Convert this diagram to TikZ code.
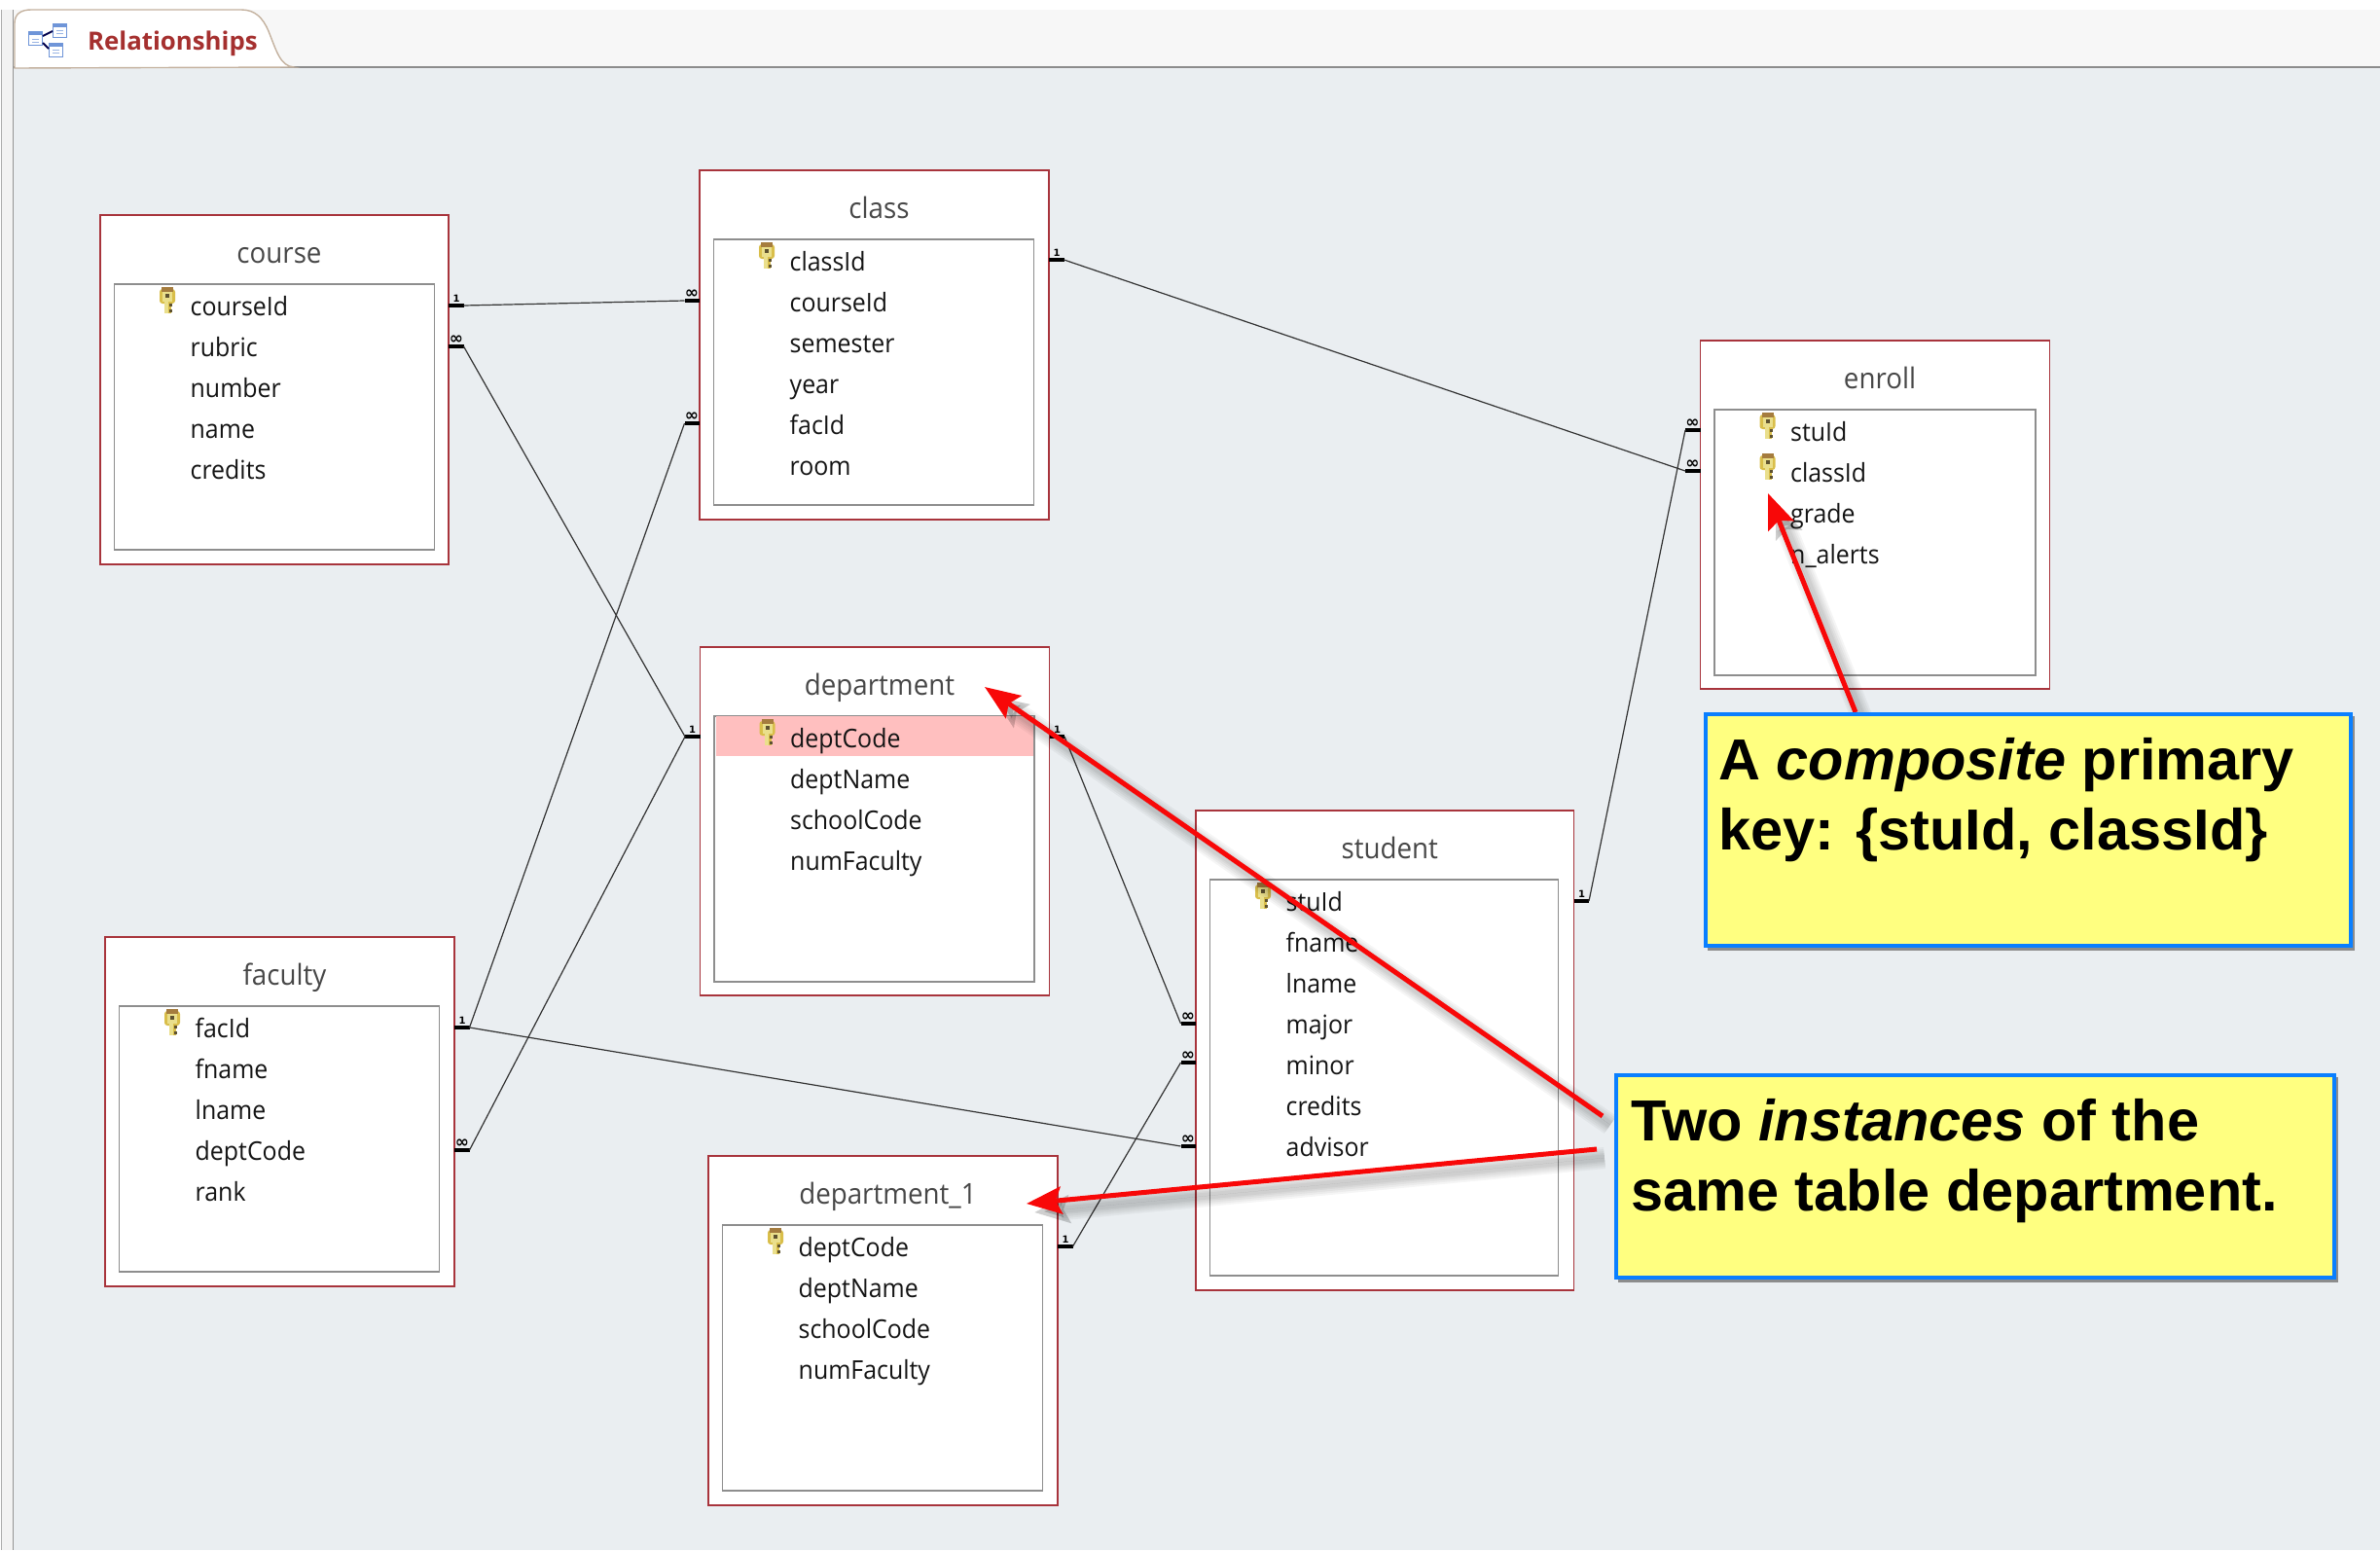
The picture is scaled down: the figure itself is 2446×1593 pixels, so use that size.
\documentclass[tikz,border=0pt]{standalone}
\usepackage{fontspec}
\setmainfont{Open Sans}
\newfontfamily\fieldfont[FakeStretch=0.94]{Open Sans}
\newfontfamily\notefont{Liberation Sans}
\newfontfamily\markfont{DejaVu Sans}
\usetikzlibrary{calc,arrows.meta}
\definecolor{canvas}{HTML}{EAEEF1}
\definecolor{tableline}{HTML}{A8343C}
\definecolor{innerline}{HTML}{8E8E8E}
\definecolor{tabred}{HTML}{A5302F}
\definecolor{noteblue}{HTML}{0A7FFF}
\definecolor{noteyellow}{HTML}{FFFF80}
\definecolor{arrowred}{HTML}{F80808}
\definecolor{iconblue}{HTML}{6F95D8}
\definecolor{keypale}{HTML}{EADF8C}
\definecolor{keygold}{HTML}{D9BE4A}
\definecolor{keybrown}{HTML}{A57C3E}
\definecolor{keydark}{HTML}{5E5230}
\tikzset{
  tablebox/.style={draw=tableline,fill=white,line width=1.1pt,anchor=north west,inner sep=0pt,outer sep=0pt},
  innerbox/.style={draw=innerline,fill=white,line width=1.1pt,anchor=north west,inner sep=0pt,outer sep=0pt},
  titletext/.style={anchor=base,inner sep=0pt,text=black!72,font=\fieldfont\fontsize{29.5}{32}\selectfont},
  fieldtext/.style={anchor=base west,inner sep=0pt,text=black!92,font=\fieldfont\fontsize{26.5}{30}\selectfont},
  relline/.style={draw=black!80,line width=1.2pt},
  stubline/.style={draw=black,line width=4pt},
  marktext/.style={inner sep=0pt,font=\markfont\bfseries\fontsize{10}{10}\selectfont},
  manytext/.style={inner sep=0pt,font=\markfont\bfseries\fontsize{17}{17}\selectfont},
  callout/.style={draw=noteblue,fill=noteyellow,line width=4.5pt,anchor=north west,inner sep=0pt,outer sep=0pt},
  noteshadow/.style={fill=black!45,draw=none,anchor=north west,inner sep=0pt,outer sep=0pt},
  notetext/.style={anchor=north west,inner sep=0pt,align=left,font=\notefont\bfseries\fontsize{59.5}{72.5}\selectfont},
  redarrow/.style={draw=arrowred,fill=arrowred,line width=5pt,-{Stealth[length=36pt,width=28pt,inset=6pt]}},
  redshadow/.style={draw=black,fill=black,opacity=0.04,line width=#1,-{Stealth[length=36pt,width=28pt,inset=6pt]}},
  iconbox/.style={draw=iconblue,fill=white,line width=1pt}
}
% table frame: name, left, top, title, outer w, outer h, inner w, inner h
\newcommand{\dbframe}[8]{%
  \node[tablebox,minimum width=#5pt,minimum height=#6pt] (#1) at (#2,#3) {};
  \node[innerbox,minimum width=#7pt,minimum height=#8pt] (#1-in) at ($(#1.north west)+(14.5,71)$) {};
  \node[titletext] (#1-title) at ($(#1.north)+(5,49)$) {#4};
}
\newcommand{\dbrows}[2]{%
  \foreach \f [count=\i] in {#2} {
    \node[fieldtext] (#1-f\i) at ($(#1.north west)+(92.5,{103.5+42*(\i-1)})$) {\f};
  }
}
\newcommand{\keyicon}[2]{%
  \begin{scope}[shift={($(#1.north west)+(61,{74+42*(#2-1)})$)}]
    \fill[rounded corners=3pt,fill=keygold] (0,2) rectangle (16,17);
    \fill[fill=keybrown] (2,0) rectangle (14,5);
    \fill[fill=keypale] (3,5) rectangle (13,15);
    \fill[fill=keydark] (6,7) rectangle (10,11);
    \fill[fill=keypale] (5,15) rectangle (9,27);
    \fill[fill=keygold] (9,15) rectangle (12,27);
    \fill[fill=keydark] (10,17) rectangle (13,20);
    \fill[fill=keydark] (10,23) rectangle (13,26);
  \end{scope}
}
% stub: name, table corner anchor, dy, direction(+1/-1), mark
\newcommand{\stub}[5]{%
  \coordinate (#1-e) at ($(#2)+(0,#3)$);
  \coordinate (#1-o) at ($(#1-e)+({#4*15.5},0)$);
  \draw[stubline] (#1-e) -- (#1-o);
  \node[marktext] (#1-m) at ($(#1-e)+({#4*8},-7.5)$) {#5};
}
\newcommand{\stubmany}[4]{%
  \coordinate (#1-e) at ($(#2)+(0,#3)$);
  \coordinate (#1-o) at ($(#1-e)+({#4*15.5},0)$);
  \draw[stubline] (#1-e) -- (#1-o);
  \node[manytext] (#1-m) at ($(#1-e)+({#4*8},-7)$) {∞};
}
\newcommand{\pointer}[3]{%
  \coordinate (#1-s) at #2;
  \coordinate (#1-t) at #3;
  \foreach \w in {22,18,14,10,7} {
    \draw[redshadow=\w pt] ($(#1-s)+(8,9)$) -- ($(#1-t)+(8,9)$);
  }
  \draw[redarrow] (#1-s) -- (#1-t);
}
\begin{document}
\begin{tikzpicture}[x=1pt,y=-1pt]
\useasboundingbox (0,0) rectangle (2446,1593);
% window chrome
\fill[white] (0,0) rectangle (2446,1593);
\fill[black!5] (2,10) rectangle (13,1593);
\draw[draw=black!33,line width=1.5pt] (1.5,10) -- (1.5,1593);
\draw[draw=black!42,line width=1.5pt] (13.5,10) -- (13.5,1593);
\fill[canvas] (14,69) rectangle (2446,1593);
\fill[black!3] (14,10) rectangle (2446,68);
\draw[draw=black!45,line width=2pt] (14,68.5) -- (2446,68.5);
\draw[fill=white,draw=black!35!brown!45,line width=1.4pt]
  (15,70) -- (15,24) .. controls (15,14) and (22,10) .. (32,10) -- (248,10)
  .. controls (262,10) and (270,18) .. (276,32) .. controls (284,52) and (288,68) .. (302,69) -- cycle;
\node[anchor=base west,inner sep=0pt,text=tabred,font=\bfseries\fontsize{25.8}{30}\selectfont] (tabtitle) at (90,51) {Relationships};
% tab icon
\draw[iconbox] (54.5,24.5) rectangle (68.5,38.5);
\fill[iconblue] (54.5,24.5) rectangle (68.5,28);
\draw[iconbox] (50.5,44.5) rectangle (64.5,58.5);
\fill[iconblue] (50.5,44.5) rectangle (64.5,48);
\draw[iconbox] (29.5,32.5) rectangle (43.5,46.5);
\fill[iconblue] (29.5,32.5) rectangle (43.5,36);
\draw[draw=black!70!blue,line width=2pt] (44,37) -- (54,32);
\draw[draw=black!70!blue,line width=2pt] (44,44) -- (50,50);
\draw[draw=iconblue!70,line width=1pt] (33,40) -- (40,40) (33,43) -- (40,43) (58,31) -- (65,31) (58,34) -- (65,34) (54,51) -- (61,51) (54,54) -- (61,54);
% tables
\dbframe{course}{103}{221}{course}{358}{359}{329}{273}
\dbrows{course}{courseId,rubric,number,name,credits}
\keyicon{course}{1}
\dbframe{class}{719}{175}{class}{359}{359}{329}{273}
\dbrows{class}{classId,courseId,semester,year,facId,room}
\keyicon{class}{1}
\dbframe{department}{719.5}{665}{department}{359}{358}{329}{273}
\fill[red!25] ($(department.north west)+(16,71)$) rectangle ($(department.north west)+(342,112)$);
\dbrows{department}{deptCode,deptName,schoolCode,numFaculty}
\keyicon{department}{1}
\dbframe{faculty}{108}{963}{faculty}{359}{359}{329}{273}
\dbrows{faculty}{facId,fname,lname,deptCode,rank}
\keyicon{faculty}{1}
\dbframe{department1}{728}{1188}{department\_1}{359}{359}{329}{273}
\dbrows{department1}{deptCode,deptName,schoolCode,numFaculty}
\keyicon{department1}{1}
\dbframe{student}{1229}{833}{student}{388.5}{493}{358}{407}
\dbrows{student}{stuId,fname,lname,major,minor,credits,advisor}
\keyicon{student}{1}
\dbframe{enroll}{1747.5}{350}{enroll}{359}{358}{330}{273}
\dbrows{enroll}{stuId,classId,grade,n\_alerts}
\keyicon{enroll}{1}
\keyicon{enroll}{2}
% relationship stubs
\stub{courseOne}{course.north east}{93}{1}{1}
\stubmany{courseMany}{course.north east}{135}{1}
\stubmany{classInCourse}{class.north west}{134}{-1}
\stubmany{classInFac}{class.north west}{260}{-1}
\stub{classOne}{class.north east}{92}{1}{1}
\stub{deptLeft}{department.north west}{92}{-1}{1}
\stub{deptRight}{department.north east}{92}{1}{1}
\stub{facOne}{faculty.north east}{93}{1}{1}
\stubmany{facMany}{faculty.north east}{219}{1}
\stub{deptOneOne}{department1.north east}{93}{1}{1}
\stub{stuOne}{student.north east}{93}{1}{1}
\stubmany{stuMajor}{student.north west}{219}{-1}
\stubmany{stuMinor}{student.north west}{259}{-1}
\stubmany{stuAdvisor}{student.north west}{345}{-1}
\stubmany{enrollStu}{enroll.north west}{92}{-1}
\stubmany{enrollClass}{enroll.north west}{134}{-1}
% relationships
\draw[relline] (courseOne-o) -- (classInCourse-o);
\draw[relline] (courseMany-o) -- (deptLeft-o);
\draw[relline] (facOne-o) -- (classInFac-o);
\draw[relline] (facOne-o) -- (stuAdvisor-o);
\draw[relline] (facMany-o) -- (deptLeft-o);
\draw[relline] (classOne-o) -- (enrollClass-o);
\draw[relline] (deptRight-o) -- (stuMajor-o);
\draw[relline] (deptOneOne-o) -- (stuMinor-o);
\draw[relline] (stuOne-o) -- (enrollStu-o);
% red pointers
\pointer{ptrKey}{(1907,732)}{(1817,507)}
\pointer{ptrDept}{(1647,1147)}{(1012,706)}
\pointer{ptrInst}{(1641,1181)}{(1055,1237)}
% callouts
\node[noteshadow,minimum width=665pt,minimum height=241pt] (note1s) at (1755,736) {};
\node[callout,minimum width=663pt,minimum height=238pt] (note1) at (1753,734) {};
\node[notetext] (note1t) at (1766,758) {A \textit{composite} primary\\key: \{stuId, classId\}};
\node[noteshadow,minimum width=740pt,minimum height=211pt] (note2s) at (1663,1107) {};
\node[callout,minimum width=738pt,minimum height=208pt] (note2) at (1661,1105) {};
\node[notetext] (note2t) at (1676,1129) {Two \textit{instances} of the\\same table department.};
\end{tikzpicture}
\end{document}
